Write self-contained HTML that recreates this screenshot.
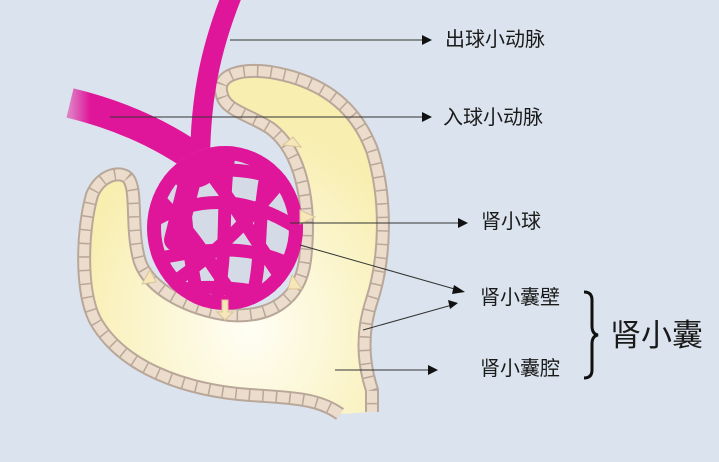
<!DOCTYPE html>
<html><head><meta charset="utf-8"><style>
html,body{margin:0;padding:0;background:#dbe4ee;}
svg{display:block}
text{font-family:"Liberation Sans","Noto Sans CJK SC",sans-serif;fill:#1a1a1a}
</style></head><body>
<svg width="719" height="462" viewBox="0 0 719 462">
<defs>
<radialGradient id="yg" cx="0.55" cy="0.75" r="0.6">
<stop offset="0" stop-color="#fffef5"/><stop offset="1" stop-color="#f8eeb0"/>
</radialGradient>
<linearGradient id="vf" x1="0" y1="0" x2="1" y2="0">
<stop offset="0" stop-color="#e0169a" stop-opacity="0.5"/><stop offset="0.15" stop-color="#e0169a"/>
</linearGradient>
<clipPath id="gc"><ellipse cx="225" cy="228" rx="78" ry="82"/></clipPath>
</defs>
<rect width="719" height="462" fill="#dbe4ee"/>
<path d="M222,95 C215,75 240,68 270,72 C320,80 355,105 372,150 C388,200 385,260 372,300 C362,330 362,360 372,390 L372,412 L340,414 C320,400 300,398 250,395 C180,390 120,365 95,320 C80,290 82,230 92,195 C100,175 120,170 128,178 C138,190 130,230 140,262 C150,290 190,310 230,315 C270,318 300,300 305,260 C312,200 300,150 270,128 C250,115 225,110 222,95 Z" fill="url(#yg)"/>
<g fill="none" stroke-linejoin="round">
<path id="w" d="M340,414 C320,400 300,398 250,395 C180,390 120,365 95,320 C80,290 82,230 92,195 C100,175 120,170 128,178 C138,190 130,230 140,262 C150,290 190,310 230,315 C270,318 300,300 305,260 C312,200 300,150 270,128 C250,115 225,110 222,95 C215,75 240,68 270,72 C320,80 355,105 372,150 C388,200 385,260 372,300 C362,330 362,360 372,390 L372,412" stroke="#b9a89a" stroke-width="14"/>
<path d="M340,414 C320,400 300,398 250,395 C180,390 120,365 95,320 C80,290 82,230 92,195 C100,175 120,170 128,178 C138,190 130,230 140,262 C150,290 190,310 230,315 C270,318 300,300 305,260 C312,200 300,150 270,128 C250,115 225,110 222,95 C215,75 240,68 270,72 C320,80 355,105 372,150 C388,200 385,260 372,300 C362,330 362,360 372,390 L372,412" stroke="#ecdccb" stroke-width="10" stroke-dasharray="12 1.5"/>
</g>
<!-- vessels -->
<g fill="none" stroke-linecap="butt">
<path d="M70,103 C120,115 165,135 205,165" stroke="url(#vf)" stroke-width="30"/>
<path d="M232,-5 C210,50 200,100 200,165" stroke="#e0169a" stroke-width="20"/>
</g>
<!-- glomerulus mesh -->
<ellipse cx="225" cy="228" rx="78" ry="82" fill="#d4dbe6"/>
<g clip-path="url(#gc)" fill="none" stroke="#e0169a" stroke-width="13" stroke-linecap="round">
<ellipse cx="225" cy="228" rx="72" ry="76" stroke-width="16"/>
<path d="M150,180 C200,170 250,160 300,190"/>
<path d="M155,220 C190,200 240,190 300,230"/>
<path d="M150,260 C200,250 250,240 300,270"/>
<path d="M160,295 C200,280 260,290 290,300"/>
<path d="M185,150 C180,200 190,260 200,310"/>
<path d="M230,150 C220,200 230,250 215,310"/>
<path d="M270,160 C255,210 265,260 250,305"/>
<path d="M200,160 C240,210 260,250 290,290"/>
<path d="M160,200 C200,240 220,280 240,305"/>
<path d="M290,170 C250,220 220,250 170,285"/>
<path d="M210,140 C220,170 200,190 170,170" stroke-width="20"/>
<path d="M195,160 L175,240" stroke-width="22"/>
</g>
<!-- arrows yellow -->
<g fill="#f6e6b8" stroke="#d8c49a" stroke-width="1">
<path d="M283,145 l10,-8 l8,10 z"/><path d="M300,210 l15,7 l-15,7z"/>
<path d="M150,270 l-8,14 l14,-2z"/><path d="M222,300 l6,0 l0,12 l5,0 l-8,8 l-8,-8 l5,0z"/>
<path d="M292,275 l10,14 l-14,0z"/>
</g>
<!-- leader lines -->
<g stroke="#333" stroke-width="1">
<line x1="230" y1="40" x2="424" y2="40"/><line x1="110" y1="117" x2="424" y2="117"/>
<line x1="290" y1="223" x2="460" y2="223"/><line x1="300" y1="245" x2="458" y2="290"/>
<line x1="363" y1="330" x2="452" y2="305"/><line x1="335" y1="370" x2="430" y2="370"/>
</g>
<g fill="#111">
<path d="M432,40 l-10,-5 l0,10z"/><path d="M432,117 l-10,-5 l0,10z"/>
<path d="M468,223 l-10,-5 l0,10z"/><path d="M465,292 l-11,-7 l-2,9z"/>
<path d="M458,303 l-10,-3 l2,9z"/><path d="M438,370 l-10,-5 l0,10z"/>
</g>
<g font-size="20">
<text x="445" y="46">出球小动脉</text>
<text x="443" y="124">入球小动脉</text>
<text x="481" y="228">肾小球</text>
<text x="480" y="304">肾小囊壁</text>
<text x="480" y="375">肾小囊腔</text>
</g>
<text x="610" y="346" font-size="31">肾小囊</text>
<path d="M584,292 q8,0 8,8 l0,26 q0,8 6,9 q-6,1 -6,9 l0,26 q0,8 -8,8" fill="none" stroke="#111" stroke-width="3"/>
</svg>
</body></html>
